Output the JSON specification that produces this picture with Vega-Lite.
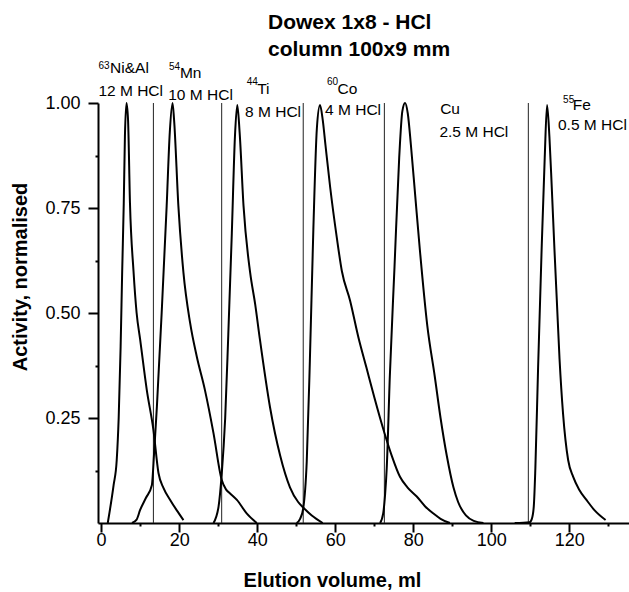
{
  "$schema": "https://vega.github.io/schema/vega-lite/v6.json",
  "autosize": {"type": "none"},
  "padding": {"left": 98, "top": 103, "right": 0, "bottom": 69},
  "width": 531,
  "height": 420,
  "background": "white",
  "title": {
    "text": ["Dowex 1x8 - HCl", "column 100x9 mm"],
    "font": "Liberation Sans",
    "fontSize": 21,
    "fontWeight": "bold",
    "color": "black",
    "anchor": "start",
    "frame": "group",
    "dx": 170,
    "offset": 1,
    "lineHeight": 27
  },
  "datasets": {
    "curves": [
      {"s": "Ni", "ml": 1.7, "act": 0}, {"s": "Ni", "ml": 3.2, "act": 0.09}, {"s": "Ni", "ml": 4.0, "act": 0.15}, {"s": "Ni", "ml": 4.5, "act": 0.25}, {"s": "Ni", "ml": 5.0, "act": 0.42}, {"s": "Ni", "ml": 5.4, "act": 0.6}, {"s": "Ni", "ml": 5.8, "act": 0.76}, {"s": "Ni", "ml": 6.1, "act": 0.92}, {"s": "Ni", "ml": 6.5, "act": 1.0}, {"s": "Ni", "ml": 6.9, "act": 0.96}, {"s": "Ni", "ml": 7.4, "act": 0.76}, {"s": "Ni", "ml": 8.3, "act": 0.6}, {"s": "Ni", "ml": 9.1, "act": 0.5}, {"s": "Ni", "ml": 10.0, "act": 0.437}, {"s": "Ni", "ml": 11.7, "act": 0.317}, {"s": "Ni", "ml": 13.4, "act": 0.222}, {"s": "Ni", "ml": 14.7, "act": 0.119}, {"s": "Ni", "ml": 16.0, "act": 0.083}, {"s": "Ni", "ml": 17.7, "act": 0.055}, {"s": "Ni", "ml": 19.4, "act": 0.03}, {"s": "Ni", "ml": 21.1, "act": 0.007},
      {"s": "Mn", "ml": 7.9, "act": 0}, {"s": "Mn", "ml": 9.1, "act": 0.008}, {"s": "Mn", "ml": 10.0, "act": 0.031}, {"s": "Mn", "ml": 11.5, "act": 0.06}, {"s": "Mn", "ml": 13.0, "act": 0.09}, {"s": "Mn", "ml": 13.6, "act": 0.17}, {"s": "Mn", "ml": 14.3, "act": 0.278}, {"s": "Mn", "ml": 15.6, "act": 0.516}, {"s": "Mn", "ml": 16.8, "act": 0.755}, {"s": "Mn", "ml": 17.6, "act": 0.93}, {"s": "Mn", "ml": 18.3, "act": 1.0}, {"s": "Mn", "ml": 18.7, "act": 0.96}, {"s": "Mn", "ml": 19.8, "act": 0.755}, {"s": "Mn", "ml": 21.1, "act": 0.596}, {"s": "Mn", "ml": 22.8, "act": 0.477}, {"s": "Mn", "ml": 24.5, "act": 0.397}, {"s": "Mn", "ml": 26.6, "act": 0.317}, {"s": "Mn", "ml": 28.8, "act": 0.214}, {"s": "Mn", "ml": 30.9, "act": 0.103}, {"s": "Mn", "ml": 32.0, "act": 0.08}, {"s": "Mn", "ml": 33.0, "act": 0.071}, {"s": "Mn", "ml": 34.8, "act": 0.055}, {"s": "Mn", "ml": 37.3, "act": 0.023}, {"s": "Mn", "ml": 39.9, "act": 0},
      {"s": "Ti", "ml": 28.8, "act": 0}, {"s": "Ti", "ml": 30.1, "act": 0.039}, {"s": "Ti", "ml": 30.9, "act": 0.115}, {"s": "Ti", "ml": 31.8, "act": 0.25}, {"s": "Ti", "ml": 32.6, "act": 0.45}, {"s": "Ti", "ml": 33.5, "act": 0.69}, {"s": "Ti", "ml": 34.3, "act": 0.92}, {"s": "Ti", "ml": 34.9, "act": 0.995}, {"s": "Ti", "ml": 35.5, "act": 0.93}, {"s": "Ti", "ml": 36.5, "act": 0.755}, {"s": "Ti", "ml": 38.2, "act": 0.596}, {"s": "Ti", "ml": 39.5, "act": 0.52}, {"s": "Ti", "ml": 40.7, "act": 0.437}, {"s": "Ti", "ml": 43.3, "act": 0.275}, {"s": "Ti", "ml": 45.9, "act": 0.16}, {"s": "Ti", "ml": 48.4, "act": 0.085}, {"s": "Ti", "ml": 50.5, "act": 0.05}, {"s": "Ti", "ml": 51.8, "act": 0.037}, {"s": "Ti", "ml": 54.0, "act": 0.018}, {"s": "Ti", "ml": 56.8, "act": 0},
      {"s": "Co", "ml": 50.1, "act": 0}, {"s": "Co", "ml": 51.0, "act": 0.01}, {"s": "Co", "ml": 51.8, "act": 0.035}, {"s": "Co", "ml": 52.7, "act": 0.146}, {"s": "Co", "ml": 53.5, "act": 0.385}, {"s": "Co", "ml": 54.4, "act": 0.7}, {"s": "Co", "ml": 55.3, "act": 0.94}, {"s": "Co", "ml": 56.1, "act": 0.995}, {"s": "Co", "ml": 56.8, "act": 0.96}, {"s": "Co", "ml": 57.5, "act": 0.9}, {"s": "Co", "ml": 58.7, "act": 0.8}, {"s": "Co", "ml": 60.4, "act": 0.68}, {"s": "Co", "ml": 61.7, "act": 0.6}, {"s": "Co", "ml": 63.8, "act": 0.53}, {"s": "Co", "ml": 66.0, "act": 0.44}, {"s": "Co", "ml": 68.0, "act": 0.37}, {"s": "Co", "ml": 70.0, "act": 0.3}, {"s": "Co", "ml": 72.6, "act": 0.215}, {"s": "Co", "ml": 74.5, "act": 0.16}, {"s": "Co", "ml": 76.6, "act": 0.11}, {"s": "Co", "ml": 78.5, "act": 0.085}, {"s": "Co", "ml": 80.9, "act": 0.063}, {"s": "Co", "ml": 83.0, "act": 0.04}, {"s": "Co", "ml": 85.1, "act": 0.023}, {"s": "Co", "ml": 87.0, "act": 0.01}, {"s": "Co", "ml": 89.4, "act": 0},
      {"s": "Cu", "ml": 71.5, "act": 0}, {"s": "Cu", "ml": 72.3, "act": 0.023}, {"s": "Cu", "ml": 72.8, "act": 0.07}, {"s": "Cu", "ml": 73.2, "act": 0.13}, {"s": "Cu", "ml": 74.0, "act": 0.35}, {"s": "Cu", "ml": 75.2, "act": 0.61}, {"s": "Cu", "ml": 76.4, "act": 0.87}, {"s": "Cu", "ml": 77.2, "act": 0.98}, {"s": "Cu", "ml": 77.9, "act": 1.0}, {"s": "Cu", "ml": 78.6, "act": 0.975}, {"s": "Cu", "ml": 79.4, "act": 0.9}, {"s": "Cu", "ml": 80.5, "act": 0.78}, {"s": "Cu", "ml": 81.7, "act": 0.65}, {"s": "Cu", "ml": 83.6, "act": 0.47}, {"s": "Cu", "ml": 85.5, "act": 0.35}, {"s": "Cu", "ml": 87.0, "act": 0.25}, {"s": "Cu", "ml": 88.6, "act": 0.16}, {"s": "Cu", "ml": 90.3, "act": 0.085}, {"s": "Cu", "ml": 91.5, "act": 0.05}, {"s": "Cu", "ml": 93.5, "act": 0.018}, {"s": "Cu", "ml": 95.5, "act": 0.005}, {"s": "Cu", "ml": 98.0, "act": 0},
      {"s": "Fe", "ml": 106.0, "act": 0}, {"s": "Fe", "ml": 109.8, "act": 0.002}, {"s": "Fe", "ml": 110.4, "act": 0.01}, {"s": "Fe", "ml": 110.9, "act": 0.04}, {"s": "Fe", "ml": 111.3, "act": 0.13}, {"s": "Fe", "ml": 112.0, "act": 0.37}, {"s": "Fe", "ml": 112.9, "act": 0.65}, {"s": "Fe", "ml": 113.7, "act": 0.87}, {"s": "Fe", "ml": 114.3, "act": 0.995}, {"s": "Fe", "ml": 114.9, "act": 0.92}, {"s": "Fe", "ml": 115.5, "act": 0.8}, {"s": "Fe", "ml": 116.2, "act": 0.65}, {"s": "Fe", "ml": 116.8, "act": 0.53}, {"s": "Fe", "ml": 117.5, "act": 0.39}, {"s": "Fe", "ml": 118.4, "act": 0.26}, {"s": "Fe", "ml": 119.7, "act": 0.15}, {"s": "Fe", "ml": 121.0, "act": 0.11}, {"s": "Fe", "ml": 122.5, "act": 0.08}, {"s": "Fe", "ml": 124.4, "act": 0.055}, {"s": "Fe", "ml": 126.5, "act": 0.03}, {"s": "Fe", "ml": 129.3, "act": 0.007}
    ],
    "seps": [
      {"ml": 13.4}, {"ml": 30.9}, {"ml": 51.8}, {"ml": 72.6}, {"ml": 109.5}
    ],
    "sups": [
      {"ml": -0.7, "act": 1.081, "text": "63"},
      {"ml": 17.4, "act": 1.079, "text": "54"},
      {"ml": 37.3, "act": 1.043, "text": "44"},
      {"ml": 57.9, "act": 1.043, "text": "60"},
      {"ml": 118.4, "act": 1.0, "text": "55"}
    ],
    "labels": [
      {"ml": 2.3, "act": 1.072, "text": "Ni&Al"},
      {"ml": -0.7, "act": 1.016, "text": "12 M HCl"},
      {"ml": 20.2, "act": 1.06, "text": "Mn"},
      {"ml": 17.2, "act": 1.008, "text": "10 M HCl"},
      {"ml": 40.0, "act": 1.021, "text": "Ti"},
      {"ml": 36.9, "act": 0.967, "text": "8 M HCl"},
      {"ml": 60.6, "act": 1.022, "text": "Co"},
      {"ml": 57.4, "act": 0.972, "text": "4 M HCl"},
      {"ml": 86.9, "act": 0.974, "text": "Cu"},
      {"ml": 86.7, "act": 0.918, "text": "2.5 M HCl"},
      {"ml": 120.9, "act": 0.983, "text": "Fe"},
      {"ml": 117.1, "act": 0.936, "text": "0.5 M HCl"}
    ]
  },
  "layer": [
    {
      "data": {"name": "seps"},
      "mark": {"type": "rule", "color": "#222222", "strokeWidth": 1},
      "encoding": {
        "x": {"field": "ml", "type": "quantitative"}
      }
    },
    {
      "data": {"name": "curves"},
      "mark": {"type": "line", "color": "black", "strokeWidth": 2, "interpolate": "monotone"},
      "encoding": {
        "x": {
          "field": "ml",
          "type": "quantitative",
          "scale": {"domain": [-0.8, 135.3], "nice": false, "zero": false},
          "axis": {
            "title": "Elution volume, ml",
            "values": [0, 10, 20, 30, 40, 50, 60, 70, 80, 90, 100, 110, 120, 130],
            "format": "d",
            "labelExpr": "datum.value % 20 === 0 ? datum.label : ''",
            "tickSize": {"condition": {"test": "datum.value % 20 === 0", "value": 9}, "value": 3},
            "labelPadding": -1,
            "titleX": 234,
            "titleY": 57,
            "titleBaseline": "middle",
            "titleAlign": "center"
          }
        },
        "y": {
          "field": "act",
          "type": "quantitative",
          "scale": {"domain": [0, 1], "nice": false},
          "axis": {
            "title": "Activity, normalised",
            "values": [0.125, 0.25, 0.375, 0.5, 0.625, 0.75, 0.875, 1],
            "labelExpr": "abs(datum.value*4 - round(datum.value*4)) < 0.001 ? format(datum.value, '.2f') : ''",
            "tickSize": {"condition": {"test": "abs(datum.value*4 - round(datum.value*4)) < 0.001", "value": 10}, "value": 3},
            "labelPadding": 8,
            "titleX": -77.5,
            "titleY": 173.5,
            "titleAngle": 270,
            "titleBaseline": "middle",
            "titleAlign": "center"
          }
        },
        "detail": {"field": "s", "type": "nominal"}
      }
    },
    {
      "data": {"name": "sups"},
      "mark": {"type": "text", "align": "left", "baseline": "alphabetic", "font": "Liberation Sans", "fontSize": 10, "color": "black"},
      "encoding": {
        "x": {"field": "ml", "type": "quantitative"},
        "y": {"field": "act", "type": "quantitative"},
        "text": {"field": "text"}
      }
    },
    {
      "data": {"name": "labels"},
      "mark": {"type": "text", "align": "left", "baseline": "alphabetic", "font": "Liberation Sans", "fontSize": 15.5, "color": "black"},
      "encoding": {
        "x": {"field": "ml", "type": "quantitative"},
        "y": {"field": "act", "type": "quantitative"},
        "text": {"field": "text"}
      }
    }
  ],
  "config": {
    "view": {"stroke": null},
    "axis": {
      "grid": false,
      "domainColor": "black",
      "domainWidth": 2,
      "tickColor": "black",
      "tickWidth": 2,
      "labelColor": "black",
      "labelFont": "Liberation Sans",
      "labelFontSize": 18,
      "titleColor": "black",
      "titleFont": "Liberation Sans",
      "titleFontSize": 20,
      "titleFontWeight": "bold"
    }
  }
}
